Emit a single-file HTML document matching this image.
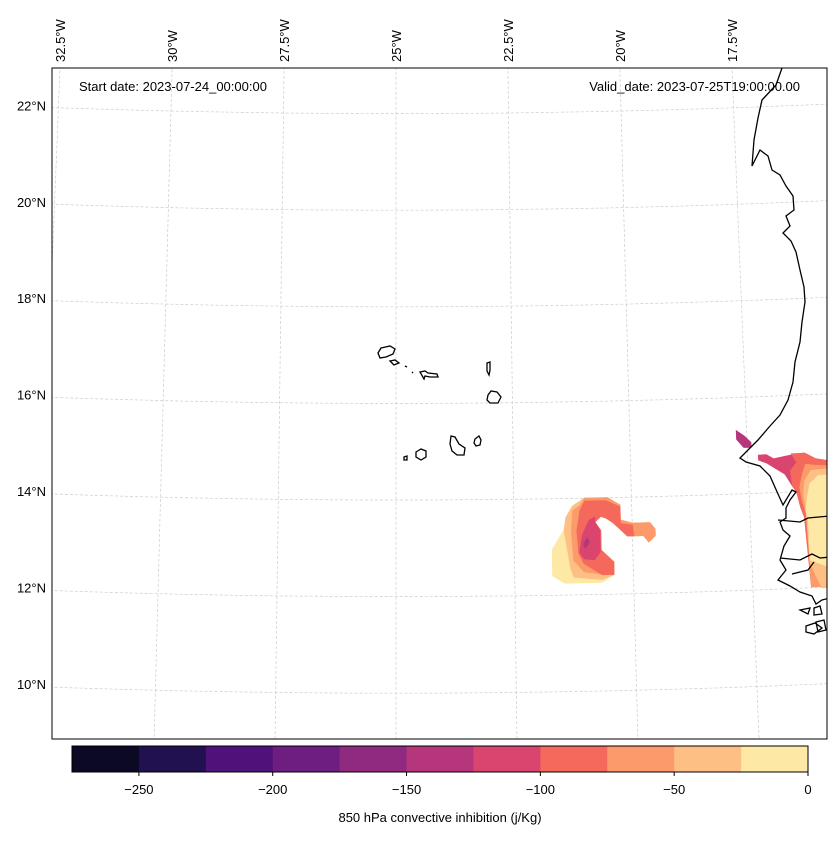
<!DOCTYPE html>
<html><head><meta charset="utf-8">
<style>
body{margin:0;background:#fff;}
svg{font-family:"Liberation Sans","DejaVu Sans",sans-serif;}
</style></head>
<body>
<svg id="chart" width="837" height="836" viewBox="0 0 837 836" xmlns="http://www.w3.org/2000/svg">
<defs><clipPath id="mapclip"><rect x="52" y="68" width="775" height="671"/></clipPath></defs>
<rect x="0" y="0" width="837" height="836" fill="#fff"/>
<g id="grid" clip-path="url(#mapclip)"></g>
<g id="fills" clip-path="url(#mapclip)"></g>
<g clip-path="url(#mapclip)" fill="none" stroke="#000" stroke-width="1.3">
<path d="M782,68 L776,85 L762,100 L758,118 L754,140 L752,166 L760,150 L768,156 L772,170 L780,175 L786,186 L793,196 L794,210 L786,216 L790,226 L783,233 L791,241 L796,252 L800,270 L804,287 L805,302 L802,322 L800,342 L795,362 L793,382 L788,400 L780,415 L770,426 L758,440 L748,450 L740,458 L746,462 L760,466 L770,476 L778,494 L783,505 L792,490 L796,492 L790,500 L786,508 L786,518 L780,522 L783,530 L790,536 L784,546 L780,560 L786,570 L778,580 L790,586 L800,592 L812,596 L816,604 L822,600 L830,598"/>
<path d="M778,520 L800,522 L808,518 L830,516"/>
<path d="M780,558 L800,560 L812,554 L820,558 L830,557"/>
<path d="M792,574 L808,570 L814,562 M800,610 L810,608 L808,614 Z M814,608 L820,606 L822,614 L814,615 Z M806,626 L815,623 L822,628 L814,634 L806,632 Z M816,622 L824,620 L826,630 L818,632 Z"/>
</g>
<g fill="none" stroke="#000" stroke-width="1.3">
<path d="M378,353 L381,348 L390,346 L395,349 L393,354 L386,357 L380,358 Z"/>
<path d="M390,361 L395,360 L399,363 L394,365 Z"/>
<path d="M405,366 L407,367"/>
<path d="M412,372 L413,373"/>
<path d="M420,372 L425,371 L428,373 L437,374 L438,377 L430,377 L425,376 L424,379 Z"/>
<path d="M487,363 L490,362 L490,370 L489,375 L487,371 Z"/>
<path d="M488,395 L491,391 L497,392 L501,397 L498,403 L490,403 L487,400 Z"/>
<path d="M475,439 L479,436 L481,440 L480,445 L476,446 L474,443 Z"/>
<path d="M451,436 L455,437 L459,444 L465,448 L464,455 L457,455 L452,451 L450,444 Z"/>
<path d="M416,452 L421,449 L426,451 L426,457 L421,460 L416,457 Z"/>
<path d="M404,457 L407,456 L407,460 L404,460 Z"/>
</g>
<rect x="52" y="68" width="775" height="671" fill="none" stroke="#000" stroke-width="1"/>
<text x="79" y="91" font-size="13">Start date: 2023-07-24_00:00:00</text>
<text x="800" y="91" font-size="13" text-anchor="end">Valid_date: 2023-07-25T19:00:00.00</text>
<g id="lonlabels"></g>
<g id="latlabels"></g>
<g id="cbar"></g>
<text x="440" y="822" font-size="13" text-anchor="middle">850 hPa convective inhibition (j/Kg)</text>
</svg>
<script>
const cbLevels = [-275,-250,-225,-200,-175,-150,-125,-100,-75,-50,-25,0];
const cbColors = ["#0b0924","#221150","#4f127b","#6e1e81","#8f2a80","#b5367a","#da4570","#f4695c","#fd9a6a","#febf84","#fde8a5"];
const cbTicks = [-250,-200,-150,-100,-50,0];
const latTicks = [10,12,14,16,18,20,22];
const lonTicks = [-32.5,-30,-27.5,-25,-22.5,-20,-17.5];
// contour polygons: level (lower bound of bin) and [lon,lat] vertices
const contourLevels = [-25,-50,-75,-100,-125,-150, -125,-100,-75,-50,-25, -150];
const contourRings = [
 [[-21.71,12.40],[-21.71,12.95],[-21.45,13.36],[-21.41,13.61],[-21.26,13.85],[-21.00,14.01],[-20.51,14.01],[-20.24,13.85],[-20.24,13.54],[-19.99,13.47],[-19.62,13.47],[-19.51,13.33],[-19.51,13.19],[-19.66,13.05],[-19.77,13.19],[-20.11,13.19],[-20.40,13.47],[-20.55,13.57],[-20.66,13.61],[-20.78,13.50],[-20.66,13.33],[-20.66,12.92],[-20.40,12.67],[-20.40,12.40],[-20.66,12.24],[-21.45,12.24]],
 [[-21.26,12.36],[-21.33,12.57],[-21.45,13.33],[-21.41,13.61],[-21.26,13.85],[-21.00,14.01],[-20.51,14.01],[-20.24,13.85],[-20.24,13.54],[-19.99,13.47],[-19.62,13.47],[-19.51,13.33],[-19.51,13.19],[-19.66,13.05],[-19.77,13.19],[-20.11,13.19],[-20.40,13.47],[-20.55,13.57],[-20.66,13.61],[-20.78,13.50],[-20.66,13.33],[-20.66,12.92],[-20.40,12.67],[-20.40,12.40],[-20.66,12.30]],
 [[-21.26,12.71],[-21.30,13.33],[-21.26,13.75],[-21.11,13.85],[-21.00,14.01],[-20.51,14.01],[-20.24,13.85],[-20.24,13.54],[-19.99,13.47],[-19.62,13.47],[-19.51,13.33],[-19.51,13.19],[-19.66,13.05],[-19.77,13.19],[-20.11,13.19],[-20.40,13.47],[-20.55,13.57],[-20.66,13.61],[-20.78,13.50],[-20.66,13.33],[-20.66,12.92],[-20.40,12.67],[-20.40,12.40],[-20.59,12.40],[-21.04,12.47]],
 [[-21.15,12.85],[-21.18,13.33],[-21.11,13.75],[-21.00,13.95],[-20.55,13.95],[-20.24,13.81],[-20.24,13.47],[-19.99,13.43],[-19.96,13.19],[-20.11,13.19],[-20.40,13.47],[-20.55,13.57],[-20.66,13.61],[-20.78,13.50],[-20.66,13.33],[-20.66,12.92],[-20.40,12.67],[-20.40,12.40],[-20.66,12.40],[-21.04,12.64]],
 [[-21.13,12.88],[-21.07,13.23],[-20.92,13.54],[-20.78,13.62],[-20.78,13.50],[-20.68,13.33],[-20.68,12.88],[-20.81,12.71],[-21.04,12.74]],
 [[-21.05,13.05],[-20.96,13.19],[-20.90,13.09],[-21.00,12.95]],
 [[-17.28,14.80],[-17.10,14.80],[-16.95,14.71],[-16.43,14.80],[-16.28,14.80],[-16.06,14.68],[-15.84,14.57],[-15.50,14.57],[-15.50,13.40],[-16.28,13.40],[-16.36,13.67],[-16.50,13.99],[-16.58,14.12],[-16.73,14.37],[-17.10,14.61],[-17.28,14.68]],
 [[-16.58,14.80],[-16.43,14.80],[-16.28,14.80],[-16.06,14.68],[-15.50,14.57],[-15.50,12.01],[-16.28,12.01],[-16.36,13.47],[-16.43,13.67],[-16.50,13.99],[-16.58,14.12],[-16.61,14.44],[-16.47,14.61]],
 [[-16.28,14.57],[-16.06,14.54],[-15.50,14.50],[-15.50,12.01],[-16.28,12.01],[-16.32,13.54],[-16.39,13.81],[-16.43,14.09],[-16.36,14.37]],
 [[-16.17,14.44],[-15.50,14.47],[-15.50,11.98],[-16.06,11.98],[-16.28,12.50],[-16.32,13.61],[-16.36,13.95],[-16.32,14.23]],
 [[-16.02,14.33],[-15.50,14.33],[-15.50,12.26],[-16.28,12.57],[-16.28,13.40],[-16.32,13.61],[-16.28,13.88],[-16.21,14.16]],
 [[-17.73,15.33],[-17.55,15.20],[-17.41,15.06],[-17.41,14.95],[-17.58,14.95],[-17.73,15.13]]
];

const NS="http://www.w3.org/2000/svg";
function mk(tag,attrs,parent){const e=document.createElementNS(NS,tag);for(const k in attrs)e.setAttribute(k,attrs[k]);parent.appendChild(e);return e;}
// approximate Lambert-conic look
function scale(lat){return 44.8+(22.8-lat)*0.26;}
function px(lon,lat){return 396+(lon+25)*scale(lat);}
function py(lon,lat){const dx=(lon+25)*scale(lat)/370;return 500-48.3*(lat-14)-7*dx*dx;}
function colorFor(level){return cbColors[cbLevels.indexOf(level)];}

const grid=document.getElementById('grid');
latTicks.forEach(lat=>{let d="";for(let lon=-35;lon<=-14;lon+=0.5){d+=(d?"L":"M")+px(lon,lat).toFixed(1)+","+py(lon,lat).toFixed(1);}
 const p=mk('path',{d:d,fill:"none",stroke:"#ccc","stroke-width":0.7,"stroke-dasharray":"3,2"},grid);
 
 });
lonTicks.forEach(lon=>{let d="";for(let lat=8;lat<=24;lat+=0.5){d+=(d?"L":"M")+px(lon,lat).toFixed(1)+","+py(lon,lat).toFixed(1);}
 const p=mk('path',{d:d,fill:"none",stroke:"#ccc","stroke-width":0.7,"stroke-dasharray":"3,2"},grid);
 
 });

const fills=document.getElementById('fills');
contourRings.forEach((ring,i)=>{const d=ring.map((p,j)=>(j?"L":"M")+px(p[0],p[1]).toFixed(1)+","+py(p[0],p[1]).toFixed(1)).join("")+"Z";
 const e=mk('path',{d:d,fill:colorFor(contourLevels[i]),stroke:"none"},fills);
 
 });

const lonG=document.getElementById('lonlabels');
lonTicks.forEach(lon=>{const x=px(lon,22.8)+5;const t=mk('text',{x:0,y:0,"font-size":13,transform:`translate(${x.toFixed(1)},62) rotate(-90)`},lonG);
 t.textContent=(Math.abs(lon))+"°W";
 
 });
const latG=document.getElementById('latlabels');
latTicks.forEach(lat=>{const y=491-(lat-14)*48.2+5;const t=mk('text',{x:46,y:y.toFixed(1),"font-size":13,"text-anchor":"end"},latG);
 t.textContent=lat+"°N";
 
 });

const cb=document.getElementById('cbar');
const cbx=v=>72+(v-cbLevels[0])/(cbLevels[cbLevels.length-1]-cbLevels[0])*736;
cbColors.forEach((c,i)=>{const r=mk('rect',{x:cbx(cbLevels[i]),y:746,width:cbx(cbLevels[i+1])-cbx(cbLevels[i])+0.5,height:26,fill:c},cb);
 
 });
mk('rect',{x:72,y:746,width:736,height:26,fill:"none",stroke:"#000","stroke-width":1},cb);
cbTicks.forEach(v=>{mk('line',{x1:cbx(v),x2:cbx(v),y1:772,y2:776,stroke:"#000"},cb);
 const t=mk('text',{x:cbx(v),y:794,"font-size":13,"text-anchor":"middle"},cb);
 t.textContent=v<0?"\u2212"+Math.abs(v):String(v);
 
 });
</script>
</body></html>
